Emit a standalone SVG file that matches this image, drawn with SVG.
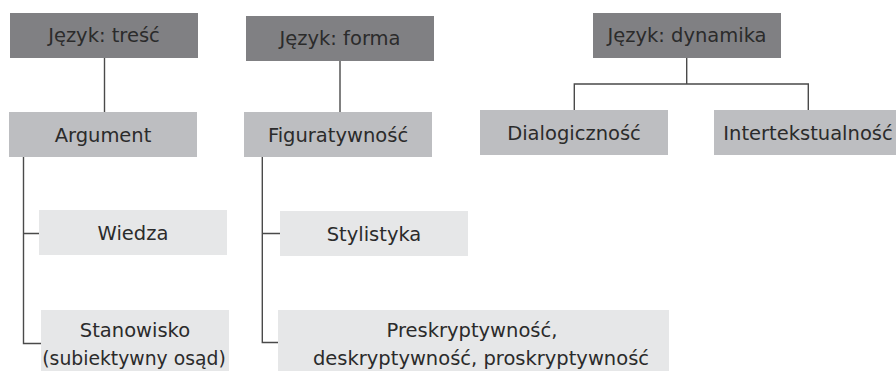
<svg xmlns="http://www.w3.org/2000/svg" width="896" height="371" viewBox="0 0 896 371">
<style>
.dark{fill:#808083}
.mid{fill:#bdbec1}
.light{fill:#e6e7e8}
text{font-family:"DejaVu Sans","Liberation Sans",sans-serif;font-size:19.5px;fill:#2b2b2b;text-anchor:middle}
.conn path{fill:none;stroke:#4a4a4a;stroke-width:1.4}
</style>
<rect width="896" height="371" fill="#ffffff"/>
<g class="conn" id="connectors">
<path d="M104.5 58V112"/>
<path d="M23.5 157V343.5H41M23.5 233.5H39"/>
<path d="M340 61V112"/>
<path d="M262.3 157V342.5H278.5M262.3 233.5H280"/>
<path d="M686.7 58V84M574.3 110V84H808.3V110"/>
</g>
<g id="n-tresc"><rect class="dark" x="10" y="13" width="188" height="45"/><text x="104" y="42">Język: treść</text></g>
<g id="n-forma"><rect class="dark" x="246" y="16" width="188" height="45"/><text x="340" y="45">Język: forma</text></g>
<g id="n-dynamika"><rect class="dark" x="593" y="13" width="188" height="45"/><text x="687" y="42">Język: dynamika</text></g>
<g id="n-argument"><rect class="mid" x="9" y="112" width="188" height="45"/><text x="103" y="141.5">Argument</text></g>
<g id="n-figuratywnosc"><rect class="mid" x="244" y="112" width="188" height="45"/><text x="338" y="141.5">Figuratywność</text></g>
<g id="n-dialogicznosc"><rect class="mid" x="480" y="110" width="188" height="45"/><text x="574" y="139.5">Dialogiczność</text></g>
<g id="n-intertekstualnosc"><rect class="mid" x="714" y="110" width="188" height="45"/><text x="808" y="139.5">Intertekstualność</text></g>
<g id="n-wiedza"><rect class="light" x="39" y="210" width="188" height="45"/><text x="133" y="239.5">Wiedza</text></g>
<g id="n-stylistyka"><rect class="light" x="280" y="211" width="188" height="45"/><text x="374" y="240.5">Stylistyka</text></g>
<g id="n-stanowisko"><rect class="light" x="41" y="310" width="188" height="61"/><text x="135" y="337">Stanowisko</text><text x="134" y="364.5" style="font-size:18.8px">(subiektywny osąd)</text></g>
<g id="n-preskryptywnosc"><rect class="light" x="278" y="310" width="391" height="61"/><text x="472" y="337">Preskryptywność,</text><text x="481" y="364.5">deskryptywność, proskryptywność</text></g>
</svg>
